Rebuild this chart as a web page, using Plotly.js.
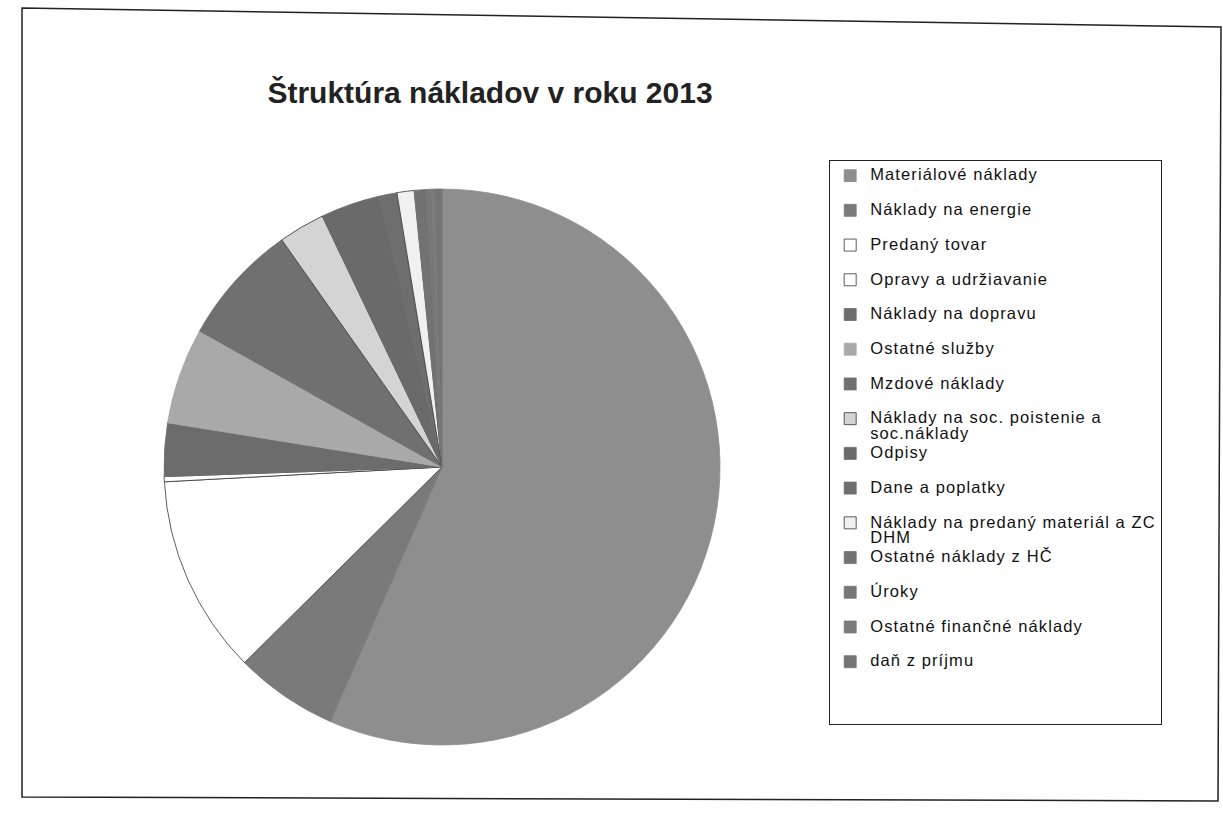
<!DOCTYPE html>
<html>
<head>
<meta charset="utf-8">
<script src="https://cdn.plot.ly/plotly-3.0.1.min.js"></script>
<style>html,body{margin:0;padding:0;background:#fff;}#chart{width:1223px;height:836px;}</style>
</head>
<body>
<div id="chart"></div>
<script>
const categories = [
  "Materiálové náklady",
  "Náklady na energie",
  "Predaný tovar",
  "Opravy a udržiavanie",
  "Náklady na dopravu",
  "Ostatné služby",
  "Mzdové náklady",
  "Náklady na soc. poistenie a<br>soc.náklady",
  "Odpisy",
  "Dane a poplatky",
  "Náklady na predaný materiál a ZC<br>DHM",
  "Ostatné náklady z HČ",
  "Úroky",
  "Ostatné finančné náklady",
  "daň z príjmu"
];
const sharePercent = [56.7, 6.0, 11.6, 0.3, 3.1, 5.6, 7.1, 2.7, 3.5, 1.0, 1.0, 0.7, 0.3, 0.2, 0.4];
const sliceColors = ["#8e8e8e", "#7a7a7a", "#ffffff", "#ffffff", "#6c6c6c", "#a9a9a9", "#707070",
  "#d4d4d4", "#6a6a6a", "#6e6e6e", "#f0f0f0", "#727272", "#777777", "#7b7b7b", "#747474"];
const lineColors = sliceColors.map(c => (c === "#ffffff" || c === "#f0f0f0" || c === "#d4d4d4") ? "#333333" : c);

const W = 1223, H = 836;
const legendText = categories.map((t, i) => {
  let body = t.includes("<br>") ? t : t + "<br>\u00a0";
  if (i === categories.length - 1) body += "<br>\u00a0<br>\u00a0";
  return '<span style="font-size:16.5px;letter-spacing:1.1px">' + body + '</span>';
});

const trace = {
  type: "pie",
  labels: legendText,
  values: sharePercent,
  sort: false,
  direction: "clockwise",
  rotation: 0,
  textinfo: "none",
  hoverinfo: "label+percent",
  marker: { colors: sliceColors, line: { color: lineColors, width: 0.8 } },
  domain: { x: [164 / W, 720 / W], y: [1 - 745 / H, 1 - 189 / H] }
};

const layout = {
  width: W, height: H,
  margin: { l: 0, r: 0, t: 0, b: 0 },
  paper_bgcolor: "#ffffff",
  font: { family: "Liberation Sans, Arial, sans-serif", color: "#111" },
  title: {
    text: "<b>Štruktúra nákladov v roku 2013</b>",
    font: { family: "Liberation Sans, Arial, sans-serif", size: 30, color: "#222" },
    x: 490 / W, xanchor: "center",
    y: 1 - 92 / H, yanchor: "middle"
  },
  showlegend: true,
  legend: {
    x: 829 / W, xanchor: "left",
    y: 1 - 160 / H, yanchor: "top",
    bordercolor: "#222", borderwidth: 1.2,
    bgcolor: "#ffffff",
    valign: "top",
    font: { family: "Liberation Sans, Arial, sans-serif", size: 12.2, color: "#111" }
  },
  shapes: [{
    type: "path", xref: "paper", yref: "paper",
    path: "M " + (22 / W) + "," + (1 - 8 / H) + " L " + (1221 / W) + "," + (1 - 27 / H) +
          " L " + (1218 / W) + "," + (1 - 801 / H) + " L " + (22 / W) + "," + (1 - 797 / H) + " Z",
    line: { color: "#222", width: 1.5 }
  }]
};

Plotly.newPlot("chart", [trace], layout, { displayModeBar: false, staticPlot: true });
</script>
</body>
</html>
